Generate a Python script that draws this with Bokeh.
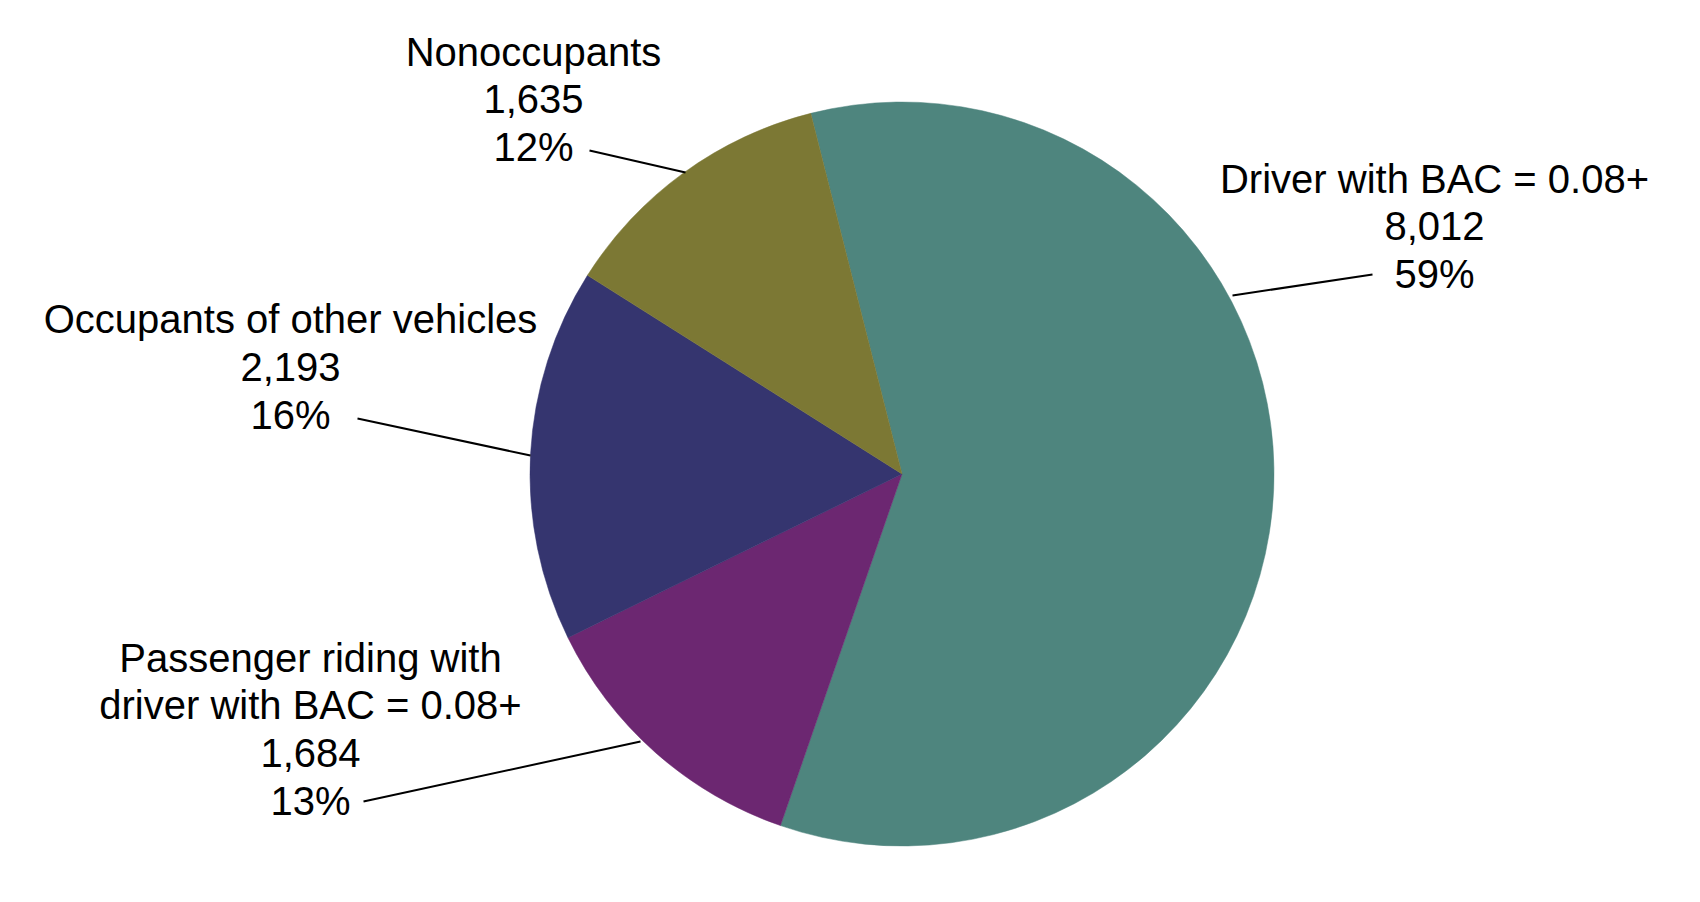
import numpy as np
from bokeh.plotting import figure
from bokeh.models import Range1d, ColumnDataSource
from bokeh.core.properties import value
from bokeh.embed import file_html
from bokeh.resources import INLINE

# ---------------- data ----------------
categories = [
    "Driver with BAC = 0.08+",
    "Passenger riding with\ndriver with BAC = 0.08+",
    "Occupants of other vehicles",
    "Nonoccupants",
]
counts = [8012, 1684, 2193, 1635]
percents = [59, 13, 16, 12]
colors = ["#4E857E", "#6C2771", "#35356F", "#7C7834"]

# ---------------- layout ----------------
W, H = 1684, 886


def px(x):
    return x


def py(y):
    return H - y


CX, CY, R = px(901.5), py(473.5), 372
START_DEG = -14.2  # first slice angle, degrees clockwise from 12 o'clock

# label block anchors (page coords): centre x, first baseline y
label_cx = [1434, 310, 290, 533]
label_y0 = [193, 672, 333.5, 66]
TEXT_DY = -15
LINE_STEP = 47.8
# leader lines (page coords): (x0, y0, x1, y1)
leaders = [
    (1372, 274, 1232, 295),
    (363, 801, 640, 741),
    (357, 418, 530, 455),
    (589, 150, 685, 172),
]
FONT = "Liberation Sans"
FONT_SIZE = "40px"

p = figure(
    width=W, height=H,
    x_range=Range1d(0, W), y_range=Range1d(0, H),
    x_axis_type=None, y_axis_type=None,
    toolbar_location=None, output_backend="svg",
    min_border=0, outline_line_color=None,
    background_fill_color="white", border_fill_color="white",
)
p.grid.visible = False

total = sum(counts)
frac = np.array(counts, dtype=float) / total
cum = np.concatenate([[0.0], np.cumsum(frac)]) * 360.0
theta_start = START_DEG + cum[:-1]
theta_end = START_DEG + cum[1:]
src = ColumnDataSource(dict(
    start=np.deg2rad(90 - theta_start),
    end=np.deg2rad(90 - theta_end),
    color=colors,
))
p.wedge(x=CX, y=CY, radius=R, radius_units="screen",
        start_angle="start", end_angle="end", direction="clock",
        fill_color="color", line_color="color", line_width=0.5, source=src)

# leader lines
p.segment(x0=[px(l[0]) for l in leaders], y0=[py(l[1]) for l in leaders],
          x1=[px(l[2]) for l in leaders], y1=[py(l[3]) for l in leaders],
          line_color="black", line_width=2)

# labels
tx, ty, tt = [], [], []
for i, cat in enumerate(categories):
    lines = cat.split("\n") + [f"{counts[i]:,}", f"{percents[i]}%"]
    for k, s in enumerate(lines):
        tx.append(px(label_cx[i]))
        ty.append(py(label_y0[i] + TEXT_DY + k * LINE_STEP))
        tt.append(s)
p.text(x=tx, y=ty, text=tt, text_font=value(FONT), text_font_size=FONT_SIZE,
       text_align="center", text_baseline="alphabetic", text_color="black")

open("out.html", "w").write(file_html(p, INLINE))
